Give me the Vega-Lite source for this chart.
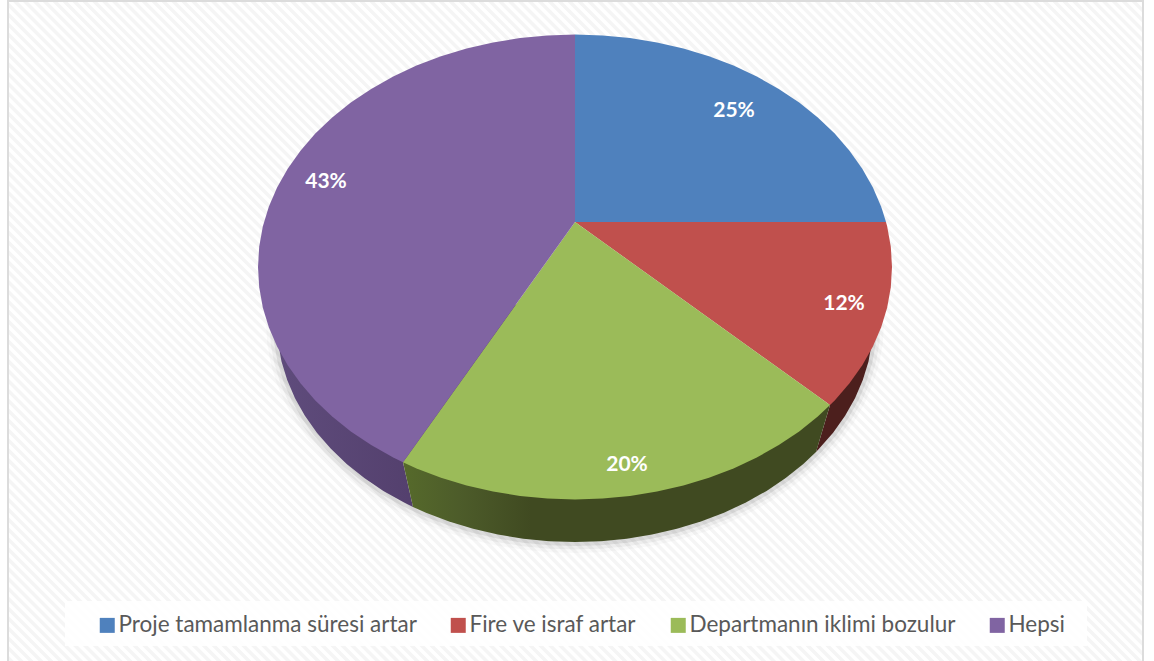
{
  "$schema": "https://vega.github.io/schema/vega-lite/v6.json",
  "width": 1154,
  "height": 661,
  "padding": 0,
  "autosize": {"type": "fit", "contains": "padding"},
  "background": "white",
  "view": {"stroke": null},
  "datasets": {
    "slices": [
      {"slice": "Proje tamamlanma süresi artar", "share": 0.25, "labelX": 734, "labelY": 111},
      {"slice": "Fire ve israf artar", "share": 0.12, "labelX": 844, "labelY": 304},
      {"slice": "Departmanın iklimi bozulur", "share": 0.2, "labelX": 627, "labelY": 465},
      {"slice": "Hepsi", "share": 0.43, "labelX": 326, "labelY": 182}
    ],
    "frame": [
      {"part": "hatch", "x": -323, "y": 1230, "x2": 1477, "y2": -570},
      {"part": "panel", "x": 65, "y": 601, "x2": 1087, "y2": 646},
      {"part": "marginLeft", "x": 0, "y": 0, "x2": 8, "y2": 661},
      {"part": "marginRight", "x": 1143, "y": 0, "x2": 1154, "y2": 661},
      {"part": "border", "x": 8, "y": 1, "x2": 1143, "y2": 680}
    ],
    "rim": [
      {"seq": 0, "x": 277, "y": 323.5}, {"seq": 1, "x": 278.1, "y": 342.5}, {"seq": 2, "x": 281.5, "y": 361.4},
      {"seq": 3, "x": 287.2, "y": 380.1}, {"seq": 4, "x": 295, "y": 398.2}, {"seq": 5, "x": 304.9, "y": 415.8},
      {"seq": 6, "x": 316.9, "y": 432.8}, {"seq": 7, "x": 330.9, "y": 448.8}, {"seq": 8, "x": 346.7, "y": 463.9},
      {"seq": 9, "x": 364.3, "y": 478}, {"seq": 10, "x": 383.4, "y": 490.9}, {"seq": 11, "x": 404.1, "y": 502.5},
      {"seq": 12, "x": 426, "y": 512.7}, {"seq": 13, "x": 449.1, "y": 521.5}, {"seq": 14, "x": 473.1, "y": 528.8},
      {"seq": 15, "x": 497.9, "y": 534.6}, {"seq": 16, "x": 523.3, "y": 538.7}, {"seq": 17, "x": 549, "y": 541.2},
      {"seq": 18, "x": 575, "y": 542}, {"seq": 19, "x": 601, "y": 541.2}, {"seq": 20, "x": 626.7, "y": 538.7},
      {"seq": 21, "x": 652.1, "y": 534.6}, {"seq": 22, "x": 676.9, "y": 528.8}, {"seq": 23, "x": 700.9, "y": 521.5},
      {"seq": 24, "x": 724, "y": 512.7}, {"seq": 25, "x": 745.9, "y": 502.5}, {"seq": 26, "x": 766.6, "y": 490.9},
      {"seq": 27, "x": 785.7, "y": 478}, {"seq": 28, "x": 803.3, "y": 463.9}, {"seq": 29, "x": 819, "y": 448.8},
      {"seq": 30, "x": 833.1, "y": 432.8}, {"seq": 31, "x": 845.1, "y": 415.8}, {"seq": 32, "x": 855, "y": 398.2},
      {"seq": 33, "x": 862.8, "y": 380.1}, {"seq": 34, "x": 868.5, "y": 361.4}, {"seq": 35, "x": 871.9, "y": 342.5},
      {"seq": 36, "x": 873, "y": 323.5}
    ],
    "wallPurple": [
      {"seq": 0, "x": 575, "y": 300}, {"seq": 1, "x": 277, "y": 323.5}, {"seq": 2, "x": 278.1, "y": 342.5},
      {"seq": 3, "x": 281.5, "y": 361.4}, {"seq": 4, "x": 287.2, "y": 380.1}, {"seq": 5, "x": 295, "y": 398.2},
      {"seq": 6, "x": 304.9, "y": 415.8}, {"seq": 7, "x": 316.9, "y": 432.8}, {"seq": 8, "x": 330.9, "y": 448.8},
      {"seq": 9, "x": 346.7, "y": 463.9}, {"seq": 10, "x": 364.3, "y": 478}, {"seq": 11, "x": 383.4, "y": 490.9},
      {"seq": 12, "x": 404.1, "y": 502.5}, {"seq": 13, "x": 413, "y": 507}, {"seq": 14, "x": 403, "y": 462.3}
    ],
    "wallGreen": [
      {"seq": 0, "x": 403, "y": 462.3}, {"seq": 1, "x": 413, "y": 507}, {"seq": 2, "x": 426, "y": 512.7},
      {"seq": 3, "x": 449.1, "y": 521.5}, {"seq": 4, "x": 473.1, "y": 528.8}, {"seq": 5, "x": 497.9, "y": 534.6},
      {"seq": 6, "x": 523.3, "y": 538.7}, {"seq": 7, "x": 549, "y": 541.2}, {"seq": 8, "x": 575, "y": 542},
      {"seq": 9, "x": 601, "y": 541.2}, {"seq": 10, "x": 626.7, "y": 538.7}, {"seq": 11, "x": 652.1, "y": 534.6},
      {"seq": 12, "x": 676.9, "y": 528.8}, {"seq": 13, "x": 700.9, "y": 521.5}, {"seq": 14, "x": 724, "y": 512.7},
      {"seq": 15, "x": 745.9, "y": 502.5}, {"seq": 16, "x": 766.6, "y": 490.9}, {"seq": 17, "x": 785.7, "y": 478},
      {"seq": 18, "x": 803.3, "y": 463.9}, {"seq": 19, "x": 816, "y": 452}, {"seq": 20, "x": 830, "y": 405},
      {"seq": 21, "x": 575, "y": 400}
    ],
    "wallRed": [
      {"seq": 0, "x": 830, "y": 405}, {"seq": 1, "x": 816, "y": 452}, {"seq": 2, "x": 819, "y": 448.8},
      {"seq": 3, "x": 833.1, "y": 432.8}, {"seq": 4, "x": 845.1, "y": 415.8}, {"seq": 5, "x": 855, "y": 398.2},
      {"seq": 6, "x": 862.8, "y": 380.1}, {"seq": 7, "x": 868.5, "y": 361.4}, {"seq": 8, "x": 871.9, "y": 342.5},
      {"seq": 9, "x": 873, "y": 323.5}, {"seq": 10, "x": 750, "y": 323}
    ],
    "faces": [
      {"slice": "Proje tamamlanma süresi artar", "seq": 0, "x": 575, "y": 222},
      {"slice": "Proje tamamlanma süresi artar", "seq": 1, "x": 575, "y": 34.5},
      {"slice": "Proje tamamlanma süresi artar", "seq": 2, "x": 602.6, "y": 35.4},
      {"slice": "Proje tamamlanma süresi artar", "seq": 3, "x": 630, "y": 38},
      {"slice": "Proje tamamlanma süresi artar", "seq": 4, "x": 657, "y": 42.4},
      {"slice": "Proje tamamlanma süresi artar", "seq": 5, "x": 683.4, "y": 48.5},
      {"slice": "Proje tamamlanma süresi artar", "seq": 6, "x": 709, "y": 56.3},
      {"slice": "Proje tamamlanma süresi artar", "seq": 7, "x": 733.5, "y": 65.6},
      {"slice": "Proje tamamlanma süresi artar", "seq": 8, "x": 756.8, "y": 76.5},
      {"slice": "Proje tamamlanma süresi artar", "seq": 9, "x": 778.8, "y": 88.9},
      {"slice": "Proje tamamlanma süresi artar", "seq": 10, "x": 799.2, "y": 102.6},
      {"slice": "Proje tamamlanma süresi artar", "seq": 11, "x": 817.8, "y": 117.6},
      {"slice": "Proje tamamlanma süresi artar", "seq": 12, "x": 834.7, "y": 133.6},
      {"slice": "Proje tamamlanma süresi artar", "seq": 13, "x": 849.5, "y": 150.8},
      {"slice": "Proje tamamlanma süresi artar", "seq": 14, "x": 862.3, "y": 168.7},
      {"slice": "Proje tamamlanma süresi artar", "seq": 15, "x": 872.9, "y": 187.5},
      {"slice": "Proje tamamlanma süresi artar", "seq": 16, "x": 881.2, "y": 206.8},
      {"slice": "Proje tamamlanma süresi artar", "seq": 17, "x": 886, "y": 222},

      {"slice": "Fire ve israf artar", "seq": 0, "x": 575, "y": 222},
      {"slice": "Fire ve israf artar", "seq": 1, "x": 886, "y": 222},
      {"slice": "Fire ve israf artar", "seq": 2, "x": 887.2, "y": 226.6},
      {"slice": "Fire ve israf artar", "seq": 3, "x": 890.8, "y": 246.7},
      {"slice": "Fire ve israf artar", "seq": 4, "x": 892, "y": 267},
      {"slice": "Fire ve israf artar", "seq": 5, "x": 890.8, "y": 287.3},
      {"slice": "Fire ve israf artar", "seq": 6, "x": 887.2, "y": 307.4},
      {"slice": "Fire ve israf artar", "seq": 7, "x": 881.2, "y": 327.2},
      {"slice": "Fire ve israf artar", "seq": 8, "x": 872.9, "y": 346.5},
      {"slice": "Fire ve israf artar", "seq": 9, "x": 862.3, "y": 365.3},
      {"slice": "Fire ve israf artar", "seq": 10, "x": 849.5, "y": 383.2},
      {"slice": "Fire ve israf artar", "seq": 11, "x": 834.7, "y": 400.4},
      {"slice": "Fire ve israf artar", "seq": 12, "x": 830, "y": 405},

      {"slice": "Departmanın iklimi bozulur", "seq": 0, "x": 575, "y": 222},
      {"slice": "Departmanın iklimi bozulur", "seq": 1, "x": 830, "y": 405},
      {"slice": "Departmanın iklimi bozulur", "seq": 2, "x": 817.8, "y": 416.4},
      {"slice": "Departmanın iklimi bozulur", "seq": 3, "x": 799.2, "y": 431.4},
      {"slice": "Departmanın iklimi bozulur", "seq": 4, "x": 778.8, "y": 445.1},
      {"slice": "Departmanın iklimi bozulur", "seq": 5, "x": 756.8, "y": 457.5},
      {"slice": "Departmanın iklimi bozulur", "seq": 6, "x": 733.5, "y": 468.4},
      {"slice": "Departmanın iklimi bozulur", "seq": 7, "x": 709, "y": 477.7},
      {"slice": "Departmanın iklimi bozulur", "seq": 8, "x": 683.4, "y": 485.5},
      {"slice": "Departmanın iklimi bozulur", "seq": 9, "x": 657, "y": 491.6},
      {"slice": "Departmanın iklimi bozulur", "seq": 10, "x": 630, "y": 496},
      {"slice": "Departmanın iklimi bozulur", "seq": 11, "x": 602.6, "y": 498.6},
      {"slice": "Departmanın iklimi bozulur", "seq": 12, "x": 575, "y": 499.5},
      {"slice": "Departmanın iklimi bozulur", "seq": 13, "x": 547.4, "y": 498.6},
      {"slice": "Departmanın iklimi bozulur", "seq": 14, "x": 520, "y": 496},
      {"slice": "Departmanın iklimi bozulur", "seq": 15, "x": 493, "y": 491.6},
      {"slice": "Departmanın iklimi bozulur", "seq": 16, "x": 466.6, "y": 485.5},
      {"slice": "Departmanın iklimi bozulur", "seq": 17, "x": 441, "y": 477.7},
      {"slice": "Departmanın iklimi bozulur", "seq": 18, "x": 416.5, "y": 468.4},
      {"slice": "Departmanın iklimi bozulur", "seq": 19, "x": 403, "y": 462.3},

      {"slice": "Hepsi", "seq": 0, "x": 575, "y": 222},
      {"slice": "Hepsi", "seq": 1, "x": 403, "y": 462.3},
      {"slice": "Hepsi", "seq": 2, "x": 393.2, "y": 457.5},
      {"slice": "Hepsi", "seq": 3, "x": 371.2, "y": 445.1},
      {"slice": "Hepsi", "seq": 4, "x": 350.8, "y": 431.4},
      {"slice": "Hepsi", "seq": 5, "x": 332.2, "y": 416.4},
      {"slice": "Hepsi", "seq": 6, "x": 315.3, "y": 400.4},
      {"slice": "Hepsi", "seq": 7, "x": 300.5, "y": 383.2},
      {"slice": "Hepsi", "seq": 8, "x": 287.7, "y": 365.3},
      {"slice": "Hepsi", "seq": 9, "x": 277.1, "y": 346.5},
      {"slice": "Hepsi", "seq": 10, "x": 268.8, "y": 327.2},
      {"slice": "Hepsi", "seq": 11, "x": 262.8, "y": 307.4},
      {"slice": "Hepsi", "seq": 12, "x": 259.2, "y": 287.3},
      {"slice": "Hepsi", "seq": 13, "x": 258, "y": 267},
      {"slice": "Hepsi", "seq": 14, "x": 259.2, "y": 246.7},
      {"slice": "Hepsi", "seq": 15, "x": 262.8, "y": 226.6},
      {"slice": "Hepsi", "seq": 16, "x": 268.8, "y": 206.8},
      {"slice": "Hepsi", "seq": 17, "x": 277.1, "y": 187.5},
      {"slice": "Hepsi", "seq": 18, "x": 287.7, "y": 168.7},
      {"slice": "Hepsi", "seq": 19, "x": 300.5, "y": 150.8},
      {"slice": "Hepsi", "seq": 20, "x": 315.3, "y": 133.6},
      {"slice": "Hepsi", "seq": 21, "x": 332.2, "y": 117.6},
      {"slice": "Hepsi", "seq": 22, "x": 350.8, "y": 102.6},
      {"slice": "Hepsi", "seq": 23, "x": 371.2, "y": 88.9},
      {"slice": "Hepsi", "seq": 24, "x": 393.2, "y": 76.5},
      {"slice": "Hepsi", "seq": 25, "x": 416.5, "y": 65.6},
      {"slice": "Hepsi", "seq": 26, "x": 441, "y": 56.3},
      {"slice": "Hepsi", "seq": 27, "x": 466.6, "y": 48.5},
      {"slice": "Hepsi", "seq": 28, "x": 493, "y": 42.4},
      {"slice": "Hepsi", "seq": 29, "x": 520, "y": 38},
      {"slice": "Hepsi", "seq": 30, "x": 547.4, "y": 35.4},
      {"slice": "Hepsi", "seq": 31, "x": 575, "y": 34.5}
    ]
  },
  "encoding": {
    "x": {"field": "x", "type": "quantitative", "scale": {"domain": [0, 1154], "zero": false, "nice": false}, "axis": null},
    "y": {"field": "y", "type": "quantitative", "scale": {"domain": [661, 0], "zero": false, "nice": false}, "axis": null}
  },
  "layer": [
    {
      "data": {"name": "frame"},
      "transform": [{"filter": "datum.part === 'hatch'"}],
      "mark": {"type": "rule", "stroke": "#f5f5f5", "strokeWidth": 1500, "strokeDash": [3.5, 3.5], "clip": true},
      "encoding": {"x2": {"field": "x2"}, "y2": {"field": "y2"}}
    },
    {
      "data": {"name": "frame"},
      "transform": [{"filter": "datum.part === 'marginLeft' || datum.part === 'marginRight'"}],
      "mark": {"type": "rect", "fill": "white"},
      "encoding": {"x2": {"field": "x2"}, "y2": {"field": "y2"}}
    },
    {
      "data": {"name": "frame"},
      "transform": [{"filter": "datum.part === 'border'"}],
      "mark": {"type": "rect", "fill": null, "stroke": "#dcdcdc", "strokeWidth": 2, "clip": true},
      "encoding": {"x2": {"field": "x2"}, "y2": {"field": "y2"}}
    },
    {
      "data": {"name": "frame"},
      "transform": [{"filter": "datum.part === 'panel'"}],
      "mark": {"type": "rect", "fill": "#ffffff", "opacity": 0.85},
      "encoding": {"x2": {"field": "x2"}, "y2": {"field": "y2"}}
    },
    {
      "data": {"name": "rim"},
      "mark": {"type": "line", "stroke": "#000000", "strokeWidth": 22, "opacity": 0.025},
      "encoding": {"order": {"field": "seq"}}
    },
    {
      "data": {"name": "rim"},
      "mark": {"type": "line", "stroke": "#000000", "strokeWidth": 15, "opacity": 0.045},
      "encoding": {"order": {"field": "seq"}}
    },
    {
      "data": {"name": "rim"},
      "mark": {"type": "line", "stroke": "#000000", "strokeWidth": 8, "opacity": 0.08},
      "encoding": {"order": {"field": "seq"}}
    },
    {
      "data": {"name": "wallPurple"},
      "mark": {"type": "line", "filled": true, "fill": {"gradient": "linear", "x1": 0, "y1": 0, "x2": 1, "y2": 0, "stops": [{"offset": 0, "color": "#5f4c7c"}, {"offset": 1, "color": "#46315c"}]}},
      "encoding": {"order": {"field": "seq"}}
    },
    {
      "data": {"name": "wallRed"},
      "mark": {"type": "line", "filled": true, "fill": "#4c1f1d"},
      "encoding": {"order": {"field": "seq"}}
    },
    {
      "data": {"name": "wallGreen"},
      "mark": {"type": "line", "filled": true, "fill": {"gradient": "linear", "x1": 0, "y1": 0, "x2": 1, "y2": 0, "stops": [{"offset": 0, "color": "#566a2b"}, {"offset": 0.13, "color": "#4d5c2a"}, {"offset": 0.3, "color": "#404a21"}, {"offset": 1, "color": "#404a21"}]}},
      "encoding": {"order": {"field": "seq"}}
    },
    {
      "data": {"name": "faces"},
      "mark": {"type": "line", "filled": true},
      "encoding": {
        "order": {"field": "seq"},
        "color": {
          "field": "slice",
          "type": "nominal",
          "sort": null,
          "scale": {
            "domain": ["Proje tamamlanma süresi artar", "Fire ve israf artar", "Departmanın iklimi bozulur", "Hepsi"],
            "range": ["#4f81bd", "#c0504d", "#9bbb59", "#8064a2"]
          },
          "legend": {
            "orient": "none",
            "legendX": 96,
            "legendY": 614,
            "direction": "horizontal",
            "columns": 4,
            "title": null,
            "symbolType": "square",
            "symbolSize": 225,
            "symbolStrokeWidth": 0,
            "symbolOpacity": 1,
            "labelFont": "Lato",
            "labelFontSize": 22.5,
            "labelColor": "#595959",
            "labelOffset": 0,
            "labelLimit": 0,
            "columnPadding": 30,
            "padding": 0
          }
        }
      }
    },
    {
      "data": {"name": "slices"},
      "mark": {"type": "text", "font": "Lato", "fontWeight": "bold", "fontSize": 21, "color": "white", "align": "center", "baseline": "middle"},
      "encoding": {
        "x": {"field": "labelX", "type": "quantitative"},
        "y": {"field": "labelY", "type": "quantitative"},
        "text": {"field": "share", "type": "quantitative", "format": ".0%"}
      }
    }
  ]
}
